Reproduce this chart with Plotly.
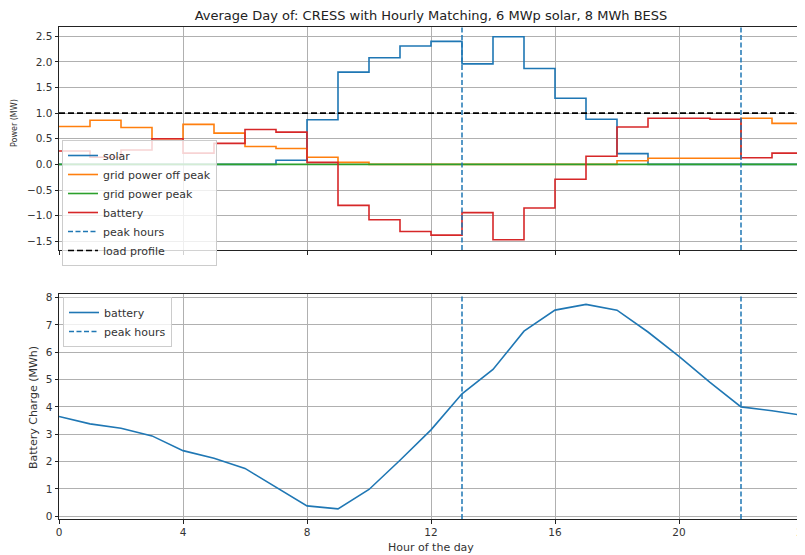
import plotly.graph_objects as go

hours = list(range(25))

# hourly power values (MW), hour 0..23
solar = [0.0, 0.0, 0.0, 0.0, 0.0, 0.0, 0.0, 0.08, 0.87, 1.80, 2.08, 2.31, 2.40, 1.96,
         2.49, 1.87, 1.29, 0.88, 0.21, 0.0, 0.0, 0.0, 0.0, 0.0]
grid_off_peak = [0.74, 0.86, 0.72, 0.50, 0.78, 0.61, 0.35, 0.31, 0.14, 0.04, 0.0, 0.0, 0.0, 0.0,
                 0.0, 0.0, 0.0, 0.0, 0.07, 0.12, 0.12, 0.12, 0.90, 0.80]
grid_peak = [0.0] * 24
battery_power = [0.26, 0.14, 0.28, 0.50, 0.22, 0.41, 0.68, 0.63, 0.04, -0.80, -1.08, -1.31, -1.38,
                 -0.94, -1.47, -0.85, -0.29, 0.16, 0.73, 0.90, 0.90, 0.88, 0.13, 0.22]
load_profile = [1.0, 1.0, 1.0, 1.0, 1.0, 1.0, 1.0, 1.0, 1.0, 1.0, 1.0, 1.0,
                1.0, 1.0, 1.0, 1.0, 1.0, 1.0, 1.0, 1.0, 1.0, 1.0, 1.0, 1.0]
peak_hours = [13, 22]

# battery state of charge (MWh), hour 0..24
battery_charge = [3.65, 3.38, 3.22, 2.94, 2.40, 2.12, 1.75, 1.08, 0.38, 0.27, 0.98, 2.05, 3.16,
                  4.48, 5.37, 6.77, 7.54, 7.75, 7.54, 6.74, 5.85, 4.90, 4.00, 3.86, 3.69]

x_ticks = [0, 4, 8, 12, 16, 20, 24]
power_ticks = [-1.5, -1.0, -0.5, 0.0, 0.5, 1.0, 1.5, 2.0, 2.5]
charge_ticks = [0, 1, 2, 3, 4, 5, 6, 7, 8]

C0, C1, C2, C3 = "#1f77b4", "#ff7f0e", "#2ca02c", "#d62728"
FONT = "DejaVu Sans"

# the page body adds an 8px margin, so the figure is sized to fit inside it
W, H = 797, 547
PL, PR, PT, PB = 51, 2, 19, 36
PW, PH = W - PL - PR, H - PT - PB


def ext(v):
    return v + [v[-1]]


def px_x(px):  # page x pixel -> paper x
    return (px - 8 - PL) / PW


def px_y(py):  # page y pixel -> paper y
    return (H - PB - (py - 8)) / PH


fig = go.Figure()

series = [("solar", solar, C0),
          ("grid power off peak", grid_off_peak, C1),
          ("grid power peak", grid_peak, C2),
          ("battery", battery_power, C3)]
for name, vals, col in series:
    fig.add_trace(go.Scatter(x=hours, y=ext(vals), mode="lines", line_shape="hv",
                             name=name, line=dict(color=col, width=1.6),
                             xaxis="x", yaxis="y", legend="legend"))

# peak hours legend entry (lines drawn as shapes)
fig.add_trace(go.Scatter(x=[None], y=[None], mode="lines", name="peak hours",
                         line=dict(color=C0, width=1.5, dash="5px,2.5px"),
                         xaxis="x", yaxis="y", legend="legend"))
fig.add_trace(go.Scatter(x=hours, y=ext(load_profile), mode="lines", line_shape="hv",
                         name="load profile", line=dict(color="black", width=1.6, dash="6px,3px"),
                         xaxis="x", yaxis="y", legend="legend"))

fig.add_trace(go.Scatter(x=hours, y=battery_charge, mode="lines", name="battery",
                         line=dict(color=C0, width=1.6), xaxis="x2", yaxis="y2",
                         legend="legend2"))
fig.add_trace(go.Scatter(x=[None], y=[None], mode="lines", name="peak hours",
                         line=dict(color=C0, width=1.5, dash="5px,2.5px"),
                         xaxis="x2", yaxis="y2", legend="legend2"))

for ph in peak_hours:
    for xr, yr in (("x", "y domain"), ("x2", "y2 domain")):
        fig.add_shape(type="line", xref=xr, yref=yr, x0=ph, x1=ph, y0=0, y1=1,
                      line=dict(color=C0, width=1.5, dash="5px,2.5px"), layer="above")

axis_common = dict(showgrid=True, gridcolor="#b0b0b0", gridwidth=0.8, zeroline=False,
                   showline=True, linecolor="#222", linewidth=1, mirror=True,
                   ticks="outside", ticklen=3.5, tickcolor="#222", automargin=False,
                   ticklabeloverflow="allow",
                   tickfont=dict(family=FONT, size=10.5, color="#333"))

legend_common = dict(bgcolor="rgba(255,255,255,0.8)", bordercolor="#cccccc", borderwidth=1,
                     font=dict(family=FONT, size=11, color="#333"), itemwidth=30,
                     xanchor="left", yanchor="top", tracegroupgap=0)

top_dom = [px_y(250), 1]
bot_dom = [0, px_y(294)]

fig.update_layout(
    width=W, height=H,
    margin=dict(l=PL, r=PR, t=PT, b=PB, autoexpand=False),
    paper_bgcolor="white", plot_bgcolor="white",
    font=dict(family=FONT, color="#333"),
    title=dict(text="Average Day of: CRESS with Hourly Matching, 6 MWp solar, 8 MWh BESS",
               x=0.5, xref="paper", xanchor="center", y=1 - 7.5 / H, yref="container",
               yanchor="middle", font=dict(family=FONT, size=13, color="#222")),
    xaxis=dict(domain=[0, 1], range=[0, 24], tickvals=x_ticks, showticklabels=False,
               anchor="y", matches="x2", **axis_common),
    yaxis=dict(domain=top_dom, range=[-1.67, 2.68], tickvals=power_ticks,
               tickformat=".1f", anchor="x", **axis_common),
    xaxis2=dict(domain=[0, 1], range=[0, 24], tickvals=x_ticks, anchor="y2", **axis_common),
    yaxis2=dict(domain=bot_dom, range=[-0.1, 8.13], tickvals=charge_ticks,
                anchor="x2", **axis_common),
    legend=dict(x=px_x(62), y=px_y(140), **legend_common),
    legend2=dict(x=px_x(63), y=px_y(297), **legend_common),
    showlegend=True,
    annotations=[
        dict(text="Power (MW)", textangle=-90, xref="paper", yref="paper",
             x=px_x(15), y=px_y(123), showarrow=False,
             xanchor="center", yanchor="middle", font=dict(family=FONT, size=8, color="#333")),
        dict(text="Battery Charge (MWh)", textangle=-90, xref="paper", yref="paper",
             x=px_x(33), y=px_y(408), showarrow=False,
             xanchor="center", yanchor="middle", font=dict(family=FONT, size=11, color="#333")),
        dict(text="Hour of the day", xref="paper", yref="paper",
             x=0.5, y=px_y(547), showarrow=False,
             xanchor="center", yanchor="middle", font=dict(family=FONT, size=11, color="#333")),
    ],
)

fig.write_html("out.html")
